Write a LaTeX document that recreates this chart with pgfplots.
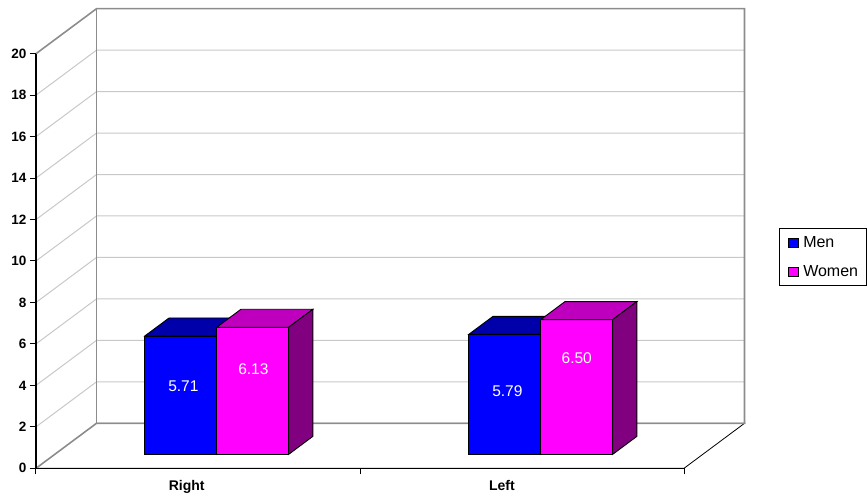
\documentclass[border=0pt]{standalone}
\usepackage{pgfplots}
\pgfplotsset{compat=1.18}
\usepackage{fontspec}
\setmainfont{Liberation Sans}

\definecolor{menfront}{RGB}{0,0,255}
\definecolor{mentop}{RGB}{0,0,170}
\definecolor{menside}{RGB}{0,0,128}
\definecolor{womenfront}{RGB}{255,0,255}
\definecolor{womentop}{RGB}{190,0,190}
\definecolor{womenside}{RGB}{128,0,128}
\definecolor{gridgray}{RGB}{200,200,200}
\definecolor{wallgray}{RGB}{140,140,140}

% One 3-D column standing between depth 0.31 and 0.71:
% #1,#2 = left/right x, #3 = value, #4-#6 = front/top/side colours
\newcommand{\barcolumn}[6]{%
  \addplot3[fill=#4] coordinates {(#1,0.31,0) (#2,0.31,0) (#2,0.31,#3) (#1,0.31,#3)} -- cycle;
  \addplot3[fill=#5] coordinates {(#1,0.31,#3) (#2,0.31,#3) (#2,0.71,#3) (#1,0.71,#3)} -- cycle;
  \addplot3[fill=#6] coordinates {(#2,0.31,0) (#2,0.71,0) (#2,0.71,#3) (#2,0.31,#3)} -- cycle;
}

\begin{document}
\begin{tikzpicture}
% ---- oblique 3-D box: walls, floor and columns ----
\begin{axis}[
  x={(324pt,0pt)}, y={(60.5pt,45pt)}, z={(0pt,20.73pt)},
  xmin=0, xmax=2, ymin=0, ymax=1, zmin=0, zmax=20,
  hide axis, clip=false,
  every axis plot/.append style={draw=black, line width=0.9pt, mark=none},
]
\coordinate (O) at (axis cs:0,0,0);
% grid lines on the side wall and the back wall
\pgfplotsinvokeforeach{2,4,6,8,10,12,14,16,18}{
  \draw[gridgray, line width=1pt] (axis cs:0,0,#1) -- (axis cs:0,1,#1) -- (axis cs:2,1,#1);
}
% floor outline
\draw[black, line width=0.8pt] (axis cs:0,0,0) -- (axis cs:2,0,0) -- (axis cs:2,1,0) -- (axis cs:0,1,0);
% wall borders
\draw[wallgray, line width=1.6pt, line join=miter]
  (axis cs:0,0,0) -- (axis cs:0,1,0) -- (axis cs:2,1,0) -- (axis cs:2,1,20)
  -- (axis cs:0,1,20) -- (axis cs:0,0,20);
\draw[wallgray, line width=1.6pt] (axis cs:0,1,0) -- (axis cs:0,1,20);

% columns: Right, then Left
\barcolumn{0.278}{0.5}{5.71}{menfront}{mentop}{menside}
\barcolumn{0.5}{0.722}{6.13}{womenfront}{womentop}{womenside}
\barcolumn{1.278}{1.5}{5.79}{menfront}{mentop}{menside}
\barcolumn{1.5}{1.722}{6.50}{womenfront}{womentop}{womenside}

% value labels
\begin{scope}[every node/.style={text=white, font=\fontsize{15.5}{15.5}\selectfont, inner sep=0pt}]
\node at (axis cs:0.397,0.31,3.263) {5.71};
\node at (axis cs:0.613,0.31,4.108) {6.13};
\node at (axis cs:1.397,0.31,3.032) {5.79};
\node at (axis cs:1.611,0.31,4.633) {6.50};
\end{scope}
\end{axis}

% ---- front axes, ticks and legend ----
\begin{axis}[
  at={(O)}, anchor=south west,
  scale only axis, width=648pt, height=414.6pt,
  xmin=0, xmax=2, ymin=0, ymax=20,
  axis x line*=bottom, axis y line*=left,
  axis line style={black, line width=1.1pt},
  ytick={0,2,...,20},
  xtick={0,1,2}, xticklabels={,,},
  extra x ticks={0.465,1.438}, extra x tick labels={Right,Left},
  extra x tick style={major tick length=0pt},
  tick align=outside, major tick length=6pt,
  tick style={black, line width=1pt},
  /pgf/number format/assume math mode=true,
  yticklabel style={font=\bfseries\fontsize{13.5}{13.5}\selectfont},
  xticklabel style={font=\bfseries\fontsize{14}{14}\selectfont, yshift=-9pt},
  legend style={at={(1.147,0.5789)}, anchor=north west,
    draw=black, line width=0.8pt, fill=white,
    font=\fontsize{16}{16}\selectfont,
    inner xsep=8.5pt, inner ysep=7.5pt, row sep=16.9pt,
    nodes={inner sep=0pt},
    /tikz/every odd column/.append style={column sep=4.3pt}},
  legend cell align=left,
  legend image code/.code={\draw[#1, line width=0.8pt] (0pt,-4.5pt) rectangle (10pt,4.5pt);},
]
\addlegendimage{fill=menfront, draw=black}
\addlegendentry{Men}
\addlegendimage{fill=womenfront, draw=black}
\addlegendentry{Women}
\end{axis}

\pgfresetboundingbox
\path[use as bounding box] ([shift={(-36pt,-32.7pt)}]O) rectangle ([shift={(831pt,468.3pt)}]O);
\end{tikzpicture}
\end{document}
